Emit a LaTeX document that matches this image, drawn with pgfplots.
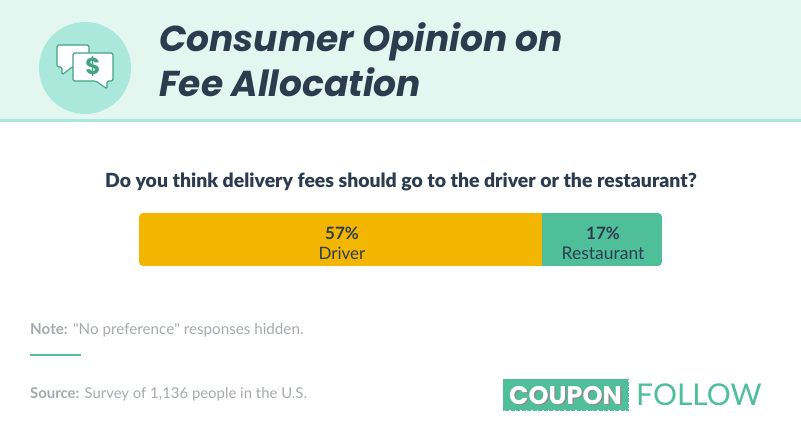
\documentclass[border=0pt]{standalone}
\usepackage{pgfplots}
\pgfplotsset{compat=1.18}
\usepackage{fontspec}
\setmainfont{Lato}
\newfontfamily\titlefont{Poppins}
\newfontfamily\plainlato{Lato}
\newfontfamily\blacklato{Lato Black}
\usetikzlibrary{calc}
\definecolor{hdr}{HTML}{E4F6F0}
\definecolor{mint}{HTML}{A9E8DB}
\definecolor{grn}{HTML}{4FBF9A}
\definecolor{amber}{HTML}{F2B600}
\definecolor{ink}{HTML}{2D3B4F}
\definecolor{gry}{HTML}{A6AAAF}
\begin{document}
\begin{tikzpicture}[x=1pt,y=1pt]
\useasboundingbox (0,0) rectangle (801,432);
\fill[white] (0,0) rectangle (801,432);
\fill[hdr] (0,313) rectangle (801,432);
\fill[mint] (0,310) rectangle (801,313);
\fill[mint] (85,364) circle (46);
% icon
\draw[grn!85!black,line width=1.1pt,fill=white,line join=round,rounded corners=1.5pt] (57,387) -- (89,387) -- (89,365) -- (72,365) -- (62,357) -- (62,365) -- (57,365) -- cycle;
\draw[grn!85!black,line width=1.1pt,fill=white,line join=round,rounded corners=1.5pt] (73,379) -- (113,379) -- (113,351) -- (107,351) -- (107,343) -- (96,351) -- (73,351) -- cycle;
\node[text=grn!85!black,font=\fontsize{23}{23}\selectfont\titlefont\bfseries] at (93,365.5) {\$};
% title
\node[anchor=base west,text=ink,font=\fontsize{36}{36}\selectfont\titlefont\bfseries\itshape,inner sep=0pt] at (159,380) {Consumer Opinion on};
\node[anchor=base west,text=ink,font=\fontsize{36}{36}\selectfont\titlefont\bfseries\itshape,inner sep=0pt] at (159,335) {Fee Allocation};
\node[anchor=base,text=ink,font=\fontsize{19.43}{19.43}\selectfont\blacklato,inner sep=0pt] at (401,244) {Do you think delivery fees should go to the driver or the restaurant?};
% bar
\begin{scope}
\clip[rounded corners=4pt] (139,166) rectangle (662,219);
\begin{axis}[at={(139pt,166pt)},anchor=south west,scale only axis,width=523pt,height=53pt,
  xmin=0,xmax=74,ymin=-1,ymax=1,axis lines=none,xbar stacked,bar width=53pt,
  clip=false]
\addplot[fill=amber,draw=none] coordinates {(57,0)};
\addplot[fill=grn,draw=none] coordinates {(17,0)};
\end{axis}
\end{scope}
\node[anchor=base,text=ink,font=\fontsize{17}{17}\selectfont\bfseries,inner sep=0pt] at (342,192.5) {57\%};
\node[anchor=base,text=ink,font=\fontsize{17}{17}\selectfont,inner sep=0pt] at (342,173) {Driver};
\node[anchor=base,text=ink,font=\fontsize{17}{17}\selectfont\bfseries,inner sep=0pt] at (603,192.5) {17\%};
\node[anchor=base,text=ink,font=\fontsize{17.5}{17.5}\selectfont,inner sep=0pt] at (603,173) {Restaurant};
% notes
\node[anchor=base west,text=gry,font=\fontsize{15.2}{15.2}\selectfont,inner sep=0pt] at (30,98) {\textbf{Note:} {\plainlato"}No preference{\plainlato"} responses hidden.};
\fill[grn] (30,76) rectangle (81,78);
\node[anchor=base west,text=gry,font=\fontsize{14.9}{14.9}\selectfont,inner sep=0pt] at (30,34) {\textbf{Source:} Survey of 1,136 people in the U.S.};
% logo
\fill[grn] (502.5,21.5) rectangle (628.5,53.5);
\draw[white,line width=0.8pt,dash pattern=on 1.5pt off 4pt] (502.5,21.5) rectangle (628.5,53.5);
\node[anchor=base,text=black!45,font=\fontsize{25.5}{25.5}\selectfont\titlefont\bfseries,inner sep=0pt] at (567,26.5) {COUPON};
\node[anchor=base,text=white,font=\fontsize{25.5}{25.5}\selectfont\titlefont\bfseries,inner sep=0pt] at (565.5,27.5) {COUPON};
\node[anchor=base west,text=grn,font=\fontsize{30}{30}\selectfont,inner sep=0pt] at (636,27) {FOLLOW};
\end{tikzpicture}
\end{document}
